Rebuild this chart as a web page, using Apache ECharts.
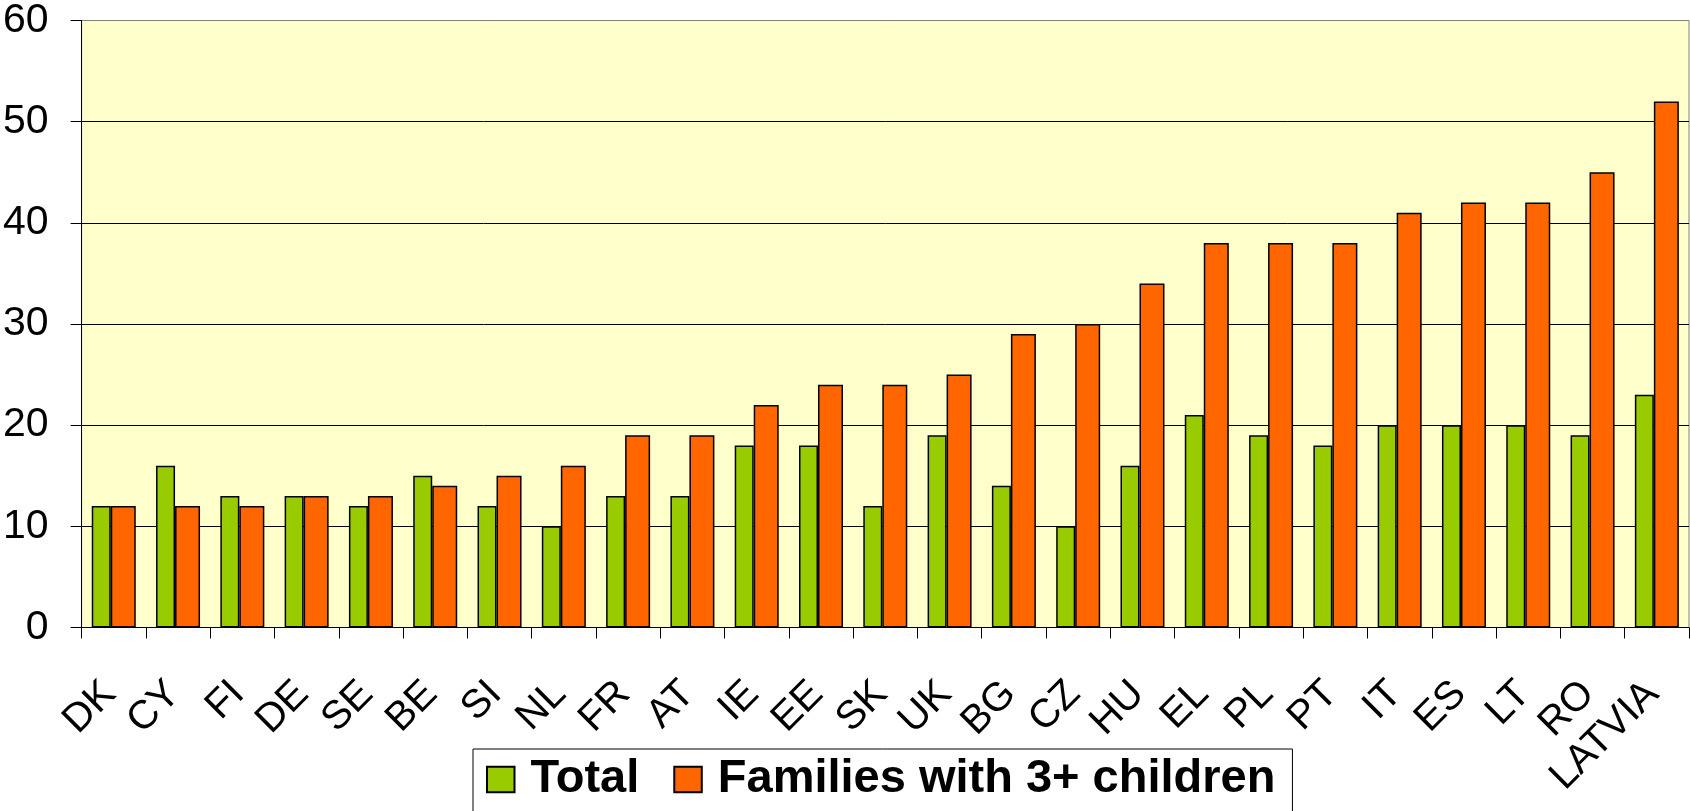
<!DOCTYPE html>
<html>
<head>
<meta charset="utf-8">
<script src="https://cdn.jsdelivr.net/npm/echarts@6/dist/echarts.min.js"></script>
<style>
html,body{margin:0;padding:0;background:#fff;}
#chart{width:1690px;height:811px;}
</style>
</head>
<body>
<div id="chart"></div>
<script>
const categories = ['DK','CY','FI','DE','SE','BE','SI','NL','FR','AT','IE','EE','SK','UK','BG','CZ','HU','EL','PL','PT','IT','ES','LT','RO','LATVIA'];
const totalValues = [12,16,13,13,12,15,12,10,13,13,18,18,12,19,14,10,16,21,19,18,20,20,20,19,23];
const familiesValues = [12,12,12,13,13,14,15,16,19,19,22,24,24,25,29,30,34,38,38,38,41,42,42,45,52];
const seriesNames = ['Total','Families with 3+ children'];
const yMin = 0, yMax = 60, yStep = 10;

const font = '"Liberation Sans", Arial, sans-serif';
const chart = echarts.init(document.getElementById('chart'), null, {renderer:'canvas'});
chart.setOption({
  backgroundColor: '#ffffff',
  animation: false,
  grid: {
    left: 78, right: 1, top: 17, bottom: 183.5,
    show: true, backgroundColor: '#FFFFCC', borderColor: '#808080', borderWidth: 1
  },
  legend: {
    left: 473, top: 749,
    orient: 'horizontal',
    icon: 'rect',
    itemWidth: 27.5, itemHeight: 25.5, itemGap: 34,
    padding: [7, 17, 12, 13],
    borderColor: '#000', borderWidth: 1,
    backgroundColor: '#fff',
    textStyle: {fontFamily: font, fontSize: 47, fontWeight: 'bold', color: '#000', padding: [0,0,0,11]},
    data: seriesNames
  },
  xAxis: {
    type: 'category',
    data: categories,
    boundaryGap: true,
    axisLine: {show: true, lineStyle: {color: '#000', width: 1}},
    axisTick: {show: true, length: 11, alignWithLabel: false, lineStyle: {color: '#000'}},
    axisLabel: {
      interval: 0, rotate: 45, margin: 56, padding: [0,6,0,0],
      fontFamily: font, fontSize: 40, color: '#000'
    },
    splitLine: {show: false}
  },
  yAxis: {
    type: 'value',
    min: yMin, max: yMax, interval: yStep,
    axisLine: {show: true, lineStyle: {color: '#000', width: 1}},
    axisTick: {show: true, length: 11, lineStyle: {color: '#000'}},
    axisLabel: {margin: 33, fontFamily: font, fontSize: 41, color: '#000'},
    splitLine: {show: true, lineStyle: {color: ['#000','#000','#000','#000','#000','#000','#808080'], width: 1}}
  },
  series: [
    {
      name: seriesNames[0], type: 'bar', data: totalValues,
      barWidth: 19, barGap: '0%',
      itemStyle: {color: '#99CC00', borderColor: '#000', borderWidth: 1.5}
    },
    {
      name: seriesNames[1], type: 'bar', data: familiesValues,
      barWidth: 25, barGap: '0%',
      itemStyle: {color: '#FF6600', borderColor: '#000', borderWidth: 1.5}
    }
  ]
});
</script>
</body>
</html>
